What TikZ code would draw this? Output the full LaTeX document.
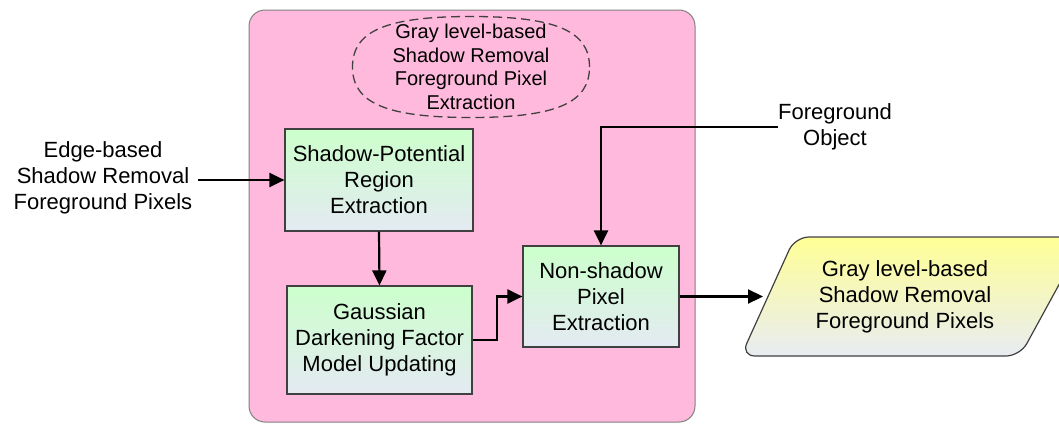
\documentclass[tikz,border=0pt]{standalone}
\usepackage{fontspec}
\setmainfont{Liberation Sans}
\usetikzlibrary{arrows.meta}
\definecolor{panelpink}{RGB}{255,185,220}
\definecolor{boxtop}{RGB}{204,255,204}
\definecolor{boxbottom}{RGB}{228,234,242}
\definecolor{outtop}{RGB}{255,255,150}
\definecolor{outbottom}{RGB}{232,236,242}
\definecolor{edgegray}{RGB}{64,64,64}
\tikzset{
  txt/.style={font=\fontsize{22}{26}\selectfont, align=center, inner sep=0pt},
  stepbox/.style={txt, draw=edgegray, line width=1.2pt, top color=boxtop, bottom color=boxbottom},
  flow/.style={line width=2.2pt, -{Triangle[length=15pt,width=14pt]}},
}
\begin{document}
\begin{tikzpicture}[x=1pt,y=-1pt]
\useasboundingbox (0,0) rectangle (1059,423);

% surrounding panel
\draw[draw=gray, line width=1pt, fill=panelpink, rounded corners=16pt]
  (249,10) rectangle (695,422);

% panel title inside a dashed squarish oval
\node[txt, font=\fontsize{20}{23.5}\selectfont] (title) at (471,67)
  {Gray level-based\\Shadow Removal\\Foreground Pixel\\Extraction};
\draw[edgegray, line width=1.3pt, dash pattern=on 9pt off 5pt, shift={(title.center)}]
  (118.5,0) .. controls (118.5,-36) and (85,-50.5) .. (0,-50.5)
  .. controls (-85,-50.5) and (-118.5,-36) .. (-118.5,0)
  .. controls (-118.5,36) and (-85,50.5) .. (0,50.5)
  .. controls (85,50.5) and (118.5,36) .. (118.5,0) -- cycle;

% processing steps
\node[stepbox, minimum width=188pt, minimum height=102pt] (b1) at (379,180)
  {Shadow-Potential\\Region\\Extraction};
\node[stepbox, minimum width=185pt, minimum height=108pt] (b2) at (379.5,340)
  {Gaussian\\Darkening Factor\\Model Updating};
\node[stepbox, minimum width=156pt, minimum height=101pt] (b3) at (601,296.5)
  {Non-shadow\\Pixel\\Extraction};

% inputs
\node[txt] (in) at (103,178) {Edge-based\\Shadow Removal\\Foreground Pixels};
\node[txt] (fo) at (835,127) {Foreground\\Object};

% output parallelogram
\coordinate (oTL) at (795,237);
\coordinate (oTR) at (1085,237);
\coordinate (oBR) at (1020,356);
\coordinate (oBL) at (741,356);
\shade[top color=outtop, bottom color=outbottom, rounded corners=14pt]
  (oTL) -- (oTR) -- (oBR) -- (oBL) -- cycle;
\draw[draw=edgegray, line width=1.2pt, rounded corners=14pt]
  (oTL) -- (oTR) -- (oBR) -- (oBL) -- cycle;
\node[txt] (out) at (905,296.5) {Gray level-based\\Shadow Removal\\Foreground Pixels};
\coordinate (outL) at (763,296.5);

% connectors
\draw[flow] (in.east |- b1.west) ++(6,0) -- (b1.west);
\draw[flow] (fo.west) -| (b3.north);
\draw[flow] (b1.south) -- (b2.north);
\draw[flow] (b2.east) -- ++(24,0) |- (b3.west);
\draw[flow] (b3.east) -- (outL);
\end{tikzpicture}
\end{document}
